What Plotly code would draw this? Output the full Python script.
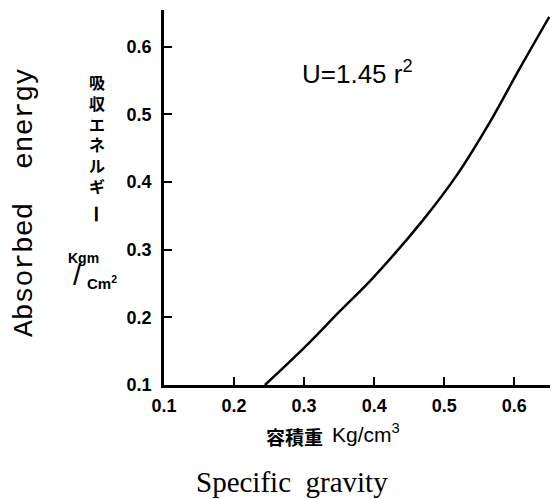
import plotly.graph_objects as go

# Data
specific_gravity = [0.244, 0.301, 0.351, 0.398, 0.470, 0.518, 0.565, 0.608, 0.650]
absorbed_energy = [0.100, 0.156, 0.209, 0.258, 0.344, 0.410, 0.488, 0.568, 0.644]
x_ticks = [0.1, 0.2, 0.3, 0.4, 0.5, 0.6]
y_ticks = [0.1, 0.2, 0.3, 0.4, 0.5, 0.6]

W, H = 557, 499
L, R, T, B = 164, 550, 10, 385


def px(x):
    return (x - L) / (R - L)


def py(y):
    return (B - y) / (B - T)


fig = go.Figure()
fig.add_trace(go.Scatter(x=specific_gravity, y=absorbed_energy, mode="lines",
                         line=dict(color="black", width=2.5, shape="spline", smoothing=1.0),
                         showlegend=False, hoverinfo="skip"))

tickfont = dict(family="Liberation Sans", size=18, color="black", weight="bold")
fig.update_layout(
    width=W, height=H,
    margin=dict(l=L, r=W - R, t=T, b=H - B),
    plot_bgcolor="white", paper_bgcolor="white",
    xaxis=dict(range=[0.1, 0.651], tickvals=x_ticks, ticktext=[f"{v:.1f}" for v in x_ticks],
               showline=True, linecolor="black", linewidth=2.5, mirror=False,
               ticks="inside", ticklen=8, tickwidth=1.5, tickcolor="black",
               showgrid=False, zeroline=False, tickfont=tickfont, ticklabelstandoff=3),
    yaxis=dict(range=[0.1, 0.654], tickvals=y_ticks, ticktext=[f"{v:.1f}" for v in y_ticks],
               showline=True, linecolor="black", linewidth=2.5, mirror=False,
               ticks="inside", ticklen=8, tickwidth=1.5, tickcolor="black",
               showgrid=False, zeroline=False, tickfont=tickfont, ticklabelstandoff=6),
)


def ann(text, x, y, size, family="Liberation Sans", angle=0, weight="normal", xanchor="center", yanchor="middle"):
    fig.add_annotation(text=text, x=px(x), y=py(y), xref="paper", yref="paper",
                       showarrow=False, textangle=angle, xanchor=xanchor, yanchor=yanchor,
                       font=dict(family=family, size=size, color="black", weight=weight))


# Equation
ann("U=1.45 r<sup>2</sup>", 300, 72, 26, xanchor="left")

# Rotated English y title
ann("Absorbed  energy", 25, 203, 28, family="Liberation Mono", angle=-90)

# Vertical Japanese y title
ann("吸<br>収<br>エ<br>ネ<br>ル<br>ギ", 97, 134, 16, family="Noto Sans CJK JP", weight="bold")
ann("ー", 97, 214, 18, family="Noto Sans CJK JP", angle=90, weight="bold")

# Units Kgm/Cm2
ann("Kgm", 83, 258, 14, weight="bold")
ann("/", 77, 274, 30)
ann("Cm<sup>2</sup>", 85, 282, 15, weight="bold", xanchor="left")

# X titles
ann("容積重", 294, 436, 19, family="Noto Sans CJK JP", weight="bold")
ann("Kg/cm<sup>3</sup>", 330, 433, 21, family="Liberation Sans", xanchor="left")
ann("Specific  gravity", 292, 482, 29, family="Liberation Serif")

fig.write_html("out.html", config={"displayModeBar": False},
               post_script="document.body.style.margin='0';document.body.style.padding='0';")
